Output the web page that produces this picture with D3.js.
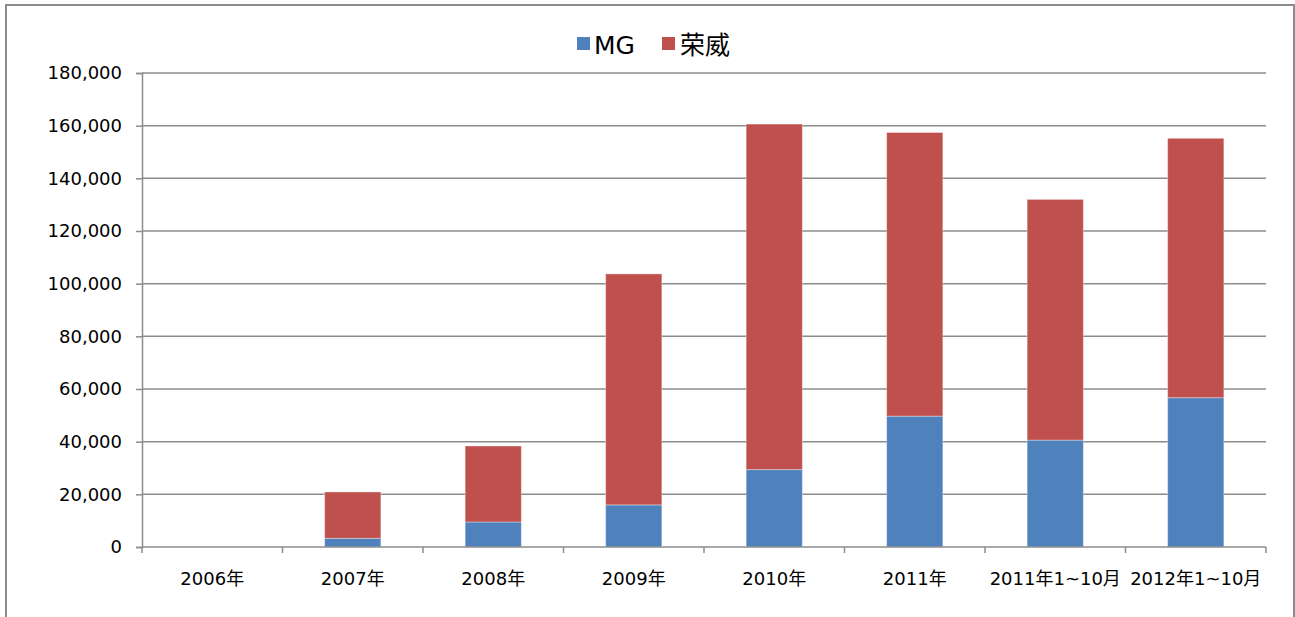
<!DOCTYPE html>
<html>
<head>
<meta charset="utf-8">
<script src="https://d3js.org/d3.v7.min.js"></script>
<style>
  body { margin: 0; background: #fff; }
  svg text { font-family: "DejaVu Sans", "Noto Sans CJK SC", sans-serif; fill: #000; }
</style>
</head>
<body>
<svg width="1295" height="617"></svg>
<script>
const categories = ["2006年", "2007年", "2008年", "2009年", "2010年", "2011年", "2011年1~10月", "2012年1~10月"];
const seriesNames = ["MG", "荣威"];
const mgValues = [0, 3300, 9500, 16000, 29400, 49700, 40600, 56700];
const roeweValues = [0, 17600, 28850, 87700, 131200, 107700, 91400, 98500];
const yTicks = [0, 20000, 40000, 60000, 80000, 100000, 120000, 140000, 160000, 180000];
const colors = ["#4F81BD", "#C0504D"];

const svg = d3.select("svg");
const plotLeft = 142, plotRight = 1266, plotTop = 73, plotBottom = 547;

// outer frame
svg.append("rect")
  .attr("x", 6).attr("y", 5).attr("width", 1288).attr("height", 640)
  .attr("fill", "none").attr("stroke", "#8c8c8c").attr("stroke-width", 2);

const x = d3.scaleBand().domain(categories).range([plotLeft, plotRight])
  .paddingInner(0.6).paddingOuter(0.3);
const y = d3.scaleLinear().domain([0, 180000]).range([plotBottom, plotTop]);

// grid lines
svg.append("g").selectAll("line").data(yTicks.slice(1)).join("line")
  .attr("x1", plotLeft).attr("x2", plotRight)
  .attr("y1", d => y(d)).attr("y2", d => y(d))
  .attr("stroke", "#8c8c8c").attr("stroke-width", 1.5);

// y axis
const yAxis = svg.append("g").attr("transform", `translate(${plotLeft},0)`)
  .call(d3.axisLeft(y).tickValues(yTicks).tickSize(6).tickPadding(14)
    .tickFormat(d3.format(",")));
yAxis.select(".domain").attr("stroke", "#8c8c8c").attr("stroke-width", 1.5);
yAxis.selectAll(".tick line").attr("stroke", "#8c8c8c").attr("stroke-width", 1.5);
yAxis.selectAll(".tick text").attr("font-size", 18);

// stacked bars
const rows = categories.map((c, i) => ({ cat: c, MG: mgValues[i], "荣威": roeweValues[i] }));
const stacked = d3.stack().keys(seriesNames)(rows);
svg.append("g").selectAll("g").data(stacked).join("g")
  .attr("fill", (d, i) => colors[i])
  .selectAll("rect").data(d => d.filter(p => p[1] > p[0])).join("rect")
  .attr("x", d => x(d.data.cat))
  .attr("width", x.bandwidth())
  .attr("y", d => y(d[1]))
  .attr("height", d => y(d[0]) - y(d[1]))
  .attr("stroke", "rgba(255,255,255,0.35)").attr("stroke-width", 1);

// x axis
const half = x.step() * x.paddingInner() / 2;
svg.append("line").attr("x1", plotLeft).attr("x2", plotRight).attr("y1", plotBottom).attr("y2", plotBottom)
  .attr("stroke", "#8c8c8c").attr("stroke-width", 1.5);
svg.append("g").selectAll("line")
  .data([plotLeft].concat(categories.map(c => x(c) + x.bandwidth() + half)))
  .join("line")
  .attr("x1", d => d).attr("x2", d => d)
  .attr("y1", plotBottom).attr("y2", plotBottom + 6)
  .attr("stroke", "#8c8c8c").attr("stroke-width", 1.5);
svg.append("g").selectAll("text").data(categories).join("text")
  .attr("x", d => x(d) + x.bandwidth() / 2)
  .attr("y", 585)
  .attr("text-anchor", "middle")
  .attr("font-size", 18)
  .text(d => d);

// legend
const legend = svg.append("g");
const legendItems = [{ name: "MG", x: 577, tx: 594 }, { name: "荣威", x: 662, tx: 680 }];
legendItems.forEach((it, i) => {
  legend.append("rect").attr("x", it.x).attr("y", 37).attr("width", 13).attr("height", 13)
    .attr("fill", colors[i]);
  legend.append("text").attr("x", it.tx).attr("y", 54).attr("font-size", 25).text(it.name);
});
</script>
</body>
</html>
